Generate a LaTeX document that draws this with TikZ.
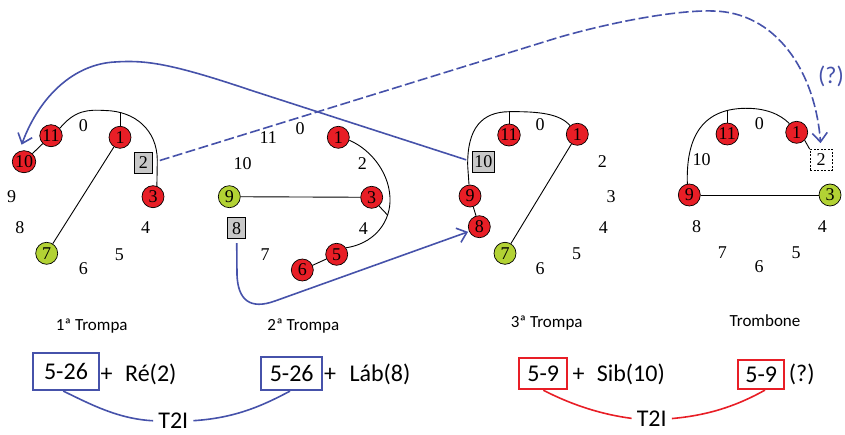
\documentclass[tikz,border=0pt]{standalone}
\usepackage{fontspec}
\setmainfont{Liberation Serif}
\newfontfamily\calfont{Carlito}
\usetikzlibrary{shapes.geometric,arrows.meta}
\definecolor{myblue}{RGB}{70,82,170}
\definecolor{myred}{RGB}{232,30,38}
\definecolor{mygreen}{RGB}{178,210,52}
\definecolor{mygray}{RGB}{200,200,200}
\newcommand\clkfont{\fontsize{18}{18}\selectfont}
\newcommand\cirfont{\fontsize{18}{18}\selectfont}
\newcommand\instfont{\calfont\fontsize{17}{17}\selectfont}
\newcommand\bigfont{\calfont\fontsize{24}{24}\selectfont}
\newcommand\qfont{\calfont\fontsize{24}{24}\selectfont}
\begin{document}
\begin{tikzpicture}[x=1pt,y=-1pt,
  lab/.style={inner sep=0pt, font=\clkfont},
  rc/.style={ellipse, draw=black, line width=0.7pt, fill=myred, inner sep=-0.7pt, minimum width=22pt, minimum height=22pt, font=\cirfont},
  gc/.style={rc, fill=mygreen},
  gbx/.style={rectangle, draw=black, line width=0.7pt, fill=mygray, inner sep=0pt, minimum width=18pt, minimum height=21pt, font=\cirfont},
  dbx/.style={rectangle, draw=black, line width=0.7pt, dash pattern=on 2pt off 1.5pt, inner sep=0pt, minimum width=22pt, minimum height=21pt, font=\cirfont},
  bk/.style={draw=black, line width=0.9pt},
  bl/.style={draw=myblue, line width=1.6pt},
  arr/.style={-{Straight Barb[length=9pt,width=15pt]}},
  inst/.style={font=\instfont, inner sep=0pt},
  fbox/.style={rectangle, line width=1.8pt, inner sep=0pt, font=\bigfont},
  ftxt/.style={font=\bigfont, inner sep=0pt, anchor=base},
  tl/.style={font=\bigfont, inner sep=0pt},
  rl/.style={draw=myred, line width=1.6pt},
]
\useasboundingbox (0,0) rectangle (845,435);

% ---------- clock 1 (1a Trompa)
\node[lab] (a0) at (83.3,125.7) {0};
\node[lab] (a9) at (11.7,196.7) {9};
\node[lab] (a8) at (20,228) {8};
\node[lab] (a6) at (83.3,269) {6};
\node[lab] (a5) at (119.3,255) {5};
\node[lab] (a4) at (145.7,228) {4};
\node[rc] (a11) at (51,135.7) {11};
\node[rc] (a10) at (24,161.7) {10};
\node[rc] (a1) at (120,137.3) {1};
\node[rc] (a3) at (153,196.7) {3};
\node[gc] (a7) at (46.7,253.3) {7};
\node[gbx] (a2) at (143.3,162.7) {2};
\draw[bk] (a11) -- (a10);
\draw[bk] (a1) -- (a7);
\draw[bk] (a1.north) -- (120,112.5);
\draw[bk] (a11.40) .. controls (75,110) and (88,109.5) .. (105,110.5) .. controls (135,111) and (157,130) .. (157.3,160) -- (a3.70);

% ---------- clock 2 (2a Trompa)
\node[lab] (b0) at (300,128.3) {0};
\node[lab] (b11) at (268.3,137.3) {11};
\node[lab] (b10) at (242.7,163.3) {10};
\node[lab] (b2) at (362.3,163.3) {2};
\node[lab] (b4) at (363.3,228.3) {4};
\node[lab] (b7) at (265,255) {7};
\node[rc] (b1) at (338.3,137.3) {1};
\node[gc] (b9) at (229.3,196.7) {9};
\node[rc] (b3) at (371.7,197.3) {3};
\node[rc] (b5) at (336.7,254.3) {5};
\node[rc] (b6) at (302.3,270) {6};
\node[gbx] (b8) at (236.7,228.3) {8};
\draw[bk] (b9) -- (b3);
\draw[bk] (b6) -- (b5);
\draw[bk] (b1.-15) .. controls (372,150) and (391,175) .. (390,202) .. controls (389,225) and (372,244) .. (b5.35);
\draw[bk] (b3.-50) -- (387.5,215);

% ---------- clock 3 (3a Trompa)
\node[lab] (c0) at (540,125) {0};
\node[lab] (c2) at (602.3,161.7) {2};
\node[lab] (c3) at (611,196.7) {3};
\node[lab] (c4) at (603.3,227.3) {4};
\node[lab] (c5) at (576.7,254) {5};
\node[lab] (c6) at (540,268.3) {6};
\node[rc] (c11) at (509,135) {11};
\node[rc] (c1) at (577.3,134.3) {1};
\node[rc] (c9) at (470,196) {9};
\node[rc] (c8) at (479.3,226.7) {8};
\node[gc] (c7) at (505,253.3) {7};
\node[gbx, minimum width=22pt] (c10) at (483.3,161.7) {10};
\draw[bk] (c9) -- (c8);
\draw[bk] (c1) -- (c7);
\draw[bk] (c11.north) -- (509,111.7);
\draw[bk] (c9.95) -- (467.7,166) .. controls (467,128) and (482,112) .. (509,111.7) .. controls (540,111.3) and (560,114) .. (c1.130);

% ---------- clock 4 (Trombone)
\node[lab] (d0) at (759.3,123.3) {0};
\node[lab] (d10) at (701.7,160) {10};
\node[lab] (d8) at (696.7,226.7) {8};
\node[lab] (d4) at (822.3,226.7) {4};
\node[lab] (d7) at (722.3,252.7) {7};
\node[lab] (d5) at (796,252.7) {5};
\node[lab] (d6) at (759,266.7) {6};
\node[rc] (d11) at (727.3,134) {11};
\node[rc] (d1) at (796.7,132.3) {1};
\node[rc] (d9) at (689.3,195) {9};
\node[gc] (d3) at (830,195) {3};
\node[dbx] (d2) at (821,160) {2};
\draw[bk] (d9) -- (d3);
\draw[bk] (d1.-45) -- (d2.north west);
\draw[bk] (d11.north) -- (727.3,110.5);
\draw[bk] (d9.100) .. controls (686,140) and (700,109) .. (745,108.3) .. controls (765,108) and (780,114) .. (d1.130);

% ---------- blue connectors
\draw[bl, arr, shorten <=6pt, shorten >=7pt] (c10.west) -- (250,90) .. controls (170,63) and (145,60) .. (115,62) .. controls (75,64) and (40,95) .. (a10.115);
\draw[bl, dash pattern=on 10pt off 3.5pt, arr, shorten <=7.5pt, shorten >=6pt] (a2.east) -- (560,37) .. controls (620,20) and (680,10) .. (713,11) .. controls (775,12) and (815,70) .. (d2.north);
\draw[bl, arr, shorten <=4pt, shorten >=1pt] (b8.south) -- (237,275) .. controls (238,300) and (250,310) .. (275,301) -- (c8.205);
\node[font=\qfont, text=myblue, inner sep=0pt] (q) at (831,76.7) {(?)};

% ---------- instrument labels
\node[inst] (i1) at (91.7,326) {1ª Trompa};
\node[inst] (i2) at (303.3,326) {2ª Trompa};
\node[inst] (i3) at (546.7,323.3) {3ª Trompa};
\node[inst] (i4) at (765,320.7) {Trombone};

% ---------- formulas
\node[fbox, draw=myblue, minimum width=66pt, minimum height=37pt] (f1) at (66,371.7) {5-26};
\node[ftxt] (p1) at (106.7,381.5) {+};
\node[ftxt] (r1) at (150.8,381.5) {Ré(2)};
\node[fbox, draw=myblue, minimum width=61pt, minimum height=33pt] (f2) at (291.7,373.7) {5-26};
\node[ftxt] (p2) at (330,381.5) {+};
\node[ftxt] (r2) at (380,381.5) {Láb(8)};
\node[tl] (t1) at (173.3,421) {T2I};
\draw[bl, shorten >=5pt] ([xshift=-2.7pt]f1.south) .. controls (90,404) and (118,419) .. (t1.west);
\draw[bl, shorten <=5pt] (t1.east) .. controls (235,418) and (262,406) .. ([xshift=-1.7pt]f2.south);

\node[fbox, draw=myred, line width=1.8pt, minimum width=48pt, minimum height=31pt] (f3) at (543.3,373.8) {5-9};
\node[ftxt] (p3) at (578.7,381.5) {+};
\node[ftxt] (r3) at (630.8,381.5) {Sib(10)};
\node[fbox, draw=myred, minimum width=46pt, minimum height=29pt] (f4) at (761.2,374.7) {5-9};
\node[ftxt] (r4) at (801.7,381.5) {(?)};
\node[tl] (t2) at (651.7,419) {T2I};
\draw[rl, shorten >=5pt] (f3.south) .. controls (568,403) and (598,414) .. (t2.west);
\draw[rl, shorten <=5pt] (t2.east) .. controls (712,415) and (740,404) .. ([xshift=3.8pt]f4.south);
\end{tikzpicture}
\end{document}
